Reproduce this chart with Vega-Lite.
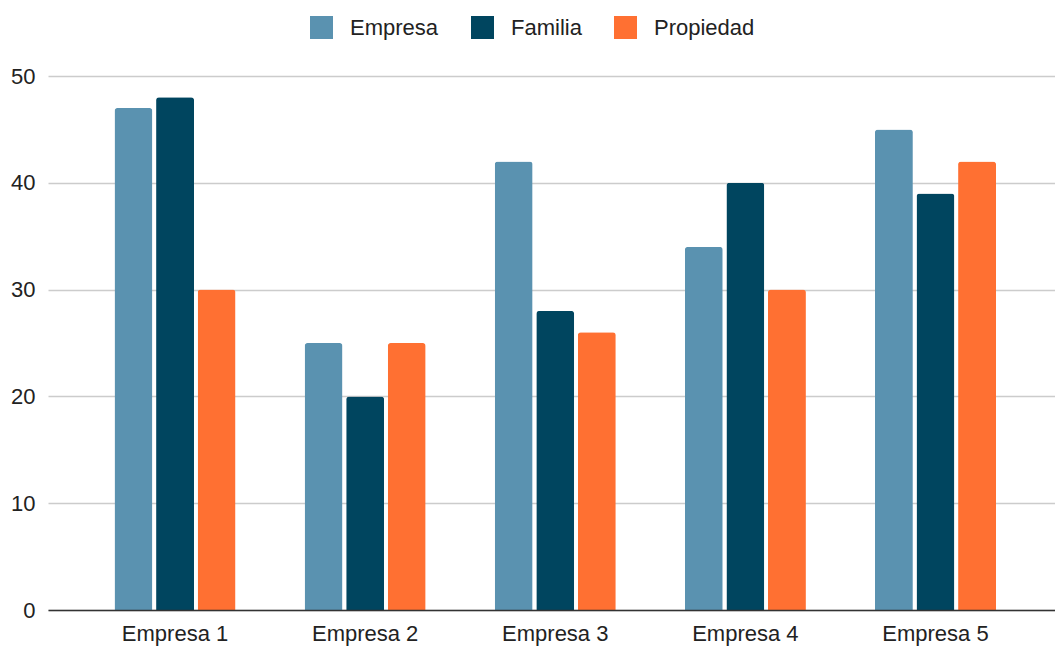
{
  "$schema": "https://vega.github.io/schema/vega-lite/v6.json",
  "width": 1007,
  "height": 534,
  "autosize": {"type": "none"},
  "padding": {"left": 48, "top": 76, "right": 0, "bottom": 37},
  "config": {"view": {"stroke": null}, "font": "Liberation Sans"},
  "data": {
    "values": [
      {"empresa": "Empresa 1", "serie": "Empresa", "valor": 47},
      {"empresa": "Empresa 1", "serie": "Familia", "valor": 48},
      {"empresa": "Empresa 1", "serie": "Propiedad", "valor": 30},
      {"empresa": "Empresa 2", "serie": "Empresa", "valor": 25},
      {"empresa": "Empresa 2", "serie": "Familia", "valor": 20},
      {"empresa": "Empresa 2", "serie": "Propiedad", "valor": 25},
      {"empresa": "Empresa 3", "serie": "Empresa", "valor": 42},
      {"empresa": "Empresa 3", "serie": "Familia", "valor": 28},
      {"empresa": "Empresa 3", "serie": "Propiedad", "valor": 26},
      {"empresa": "Empresa 4", "serie": "Empresa", "valor": 34},
      {"empresa": "Empresa 4", "serie": "Familia", "valor": 40},
      {"empresa": "Empresa 4", "serie": "Propiedad", "valor": 30},
      {"empresa": "Empresa 5", "serie": "Empresa", "valor": 45},
      {"empresa": "Empresa 5", "serie": "Familia", "valor": 39},
      {"empresa": "Empresa 5", "serie": "Propiedad", "valor": 42}
    ]
  },
  "mark": {"type": "bar", "cornerRadiusTopLeft": 3, "cornerRadiusTopRight": 3},
  "encoding": {
    "x": {
      "field": "empresa",
      "type": "nominal",
      "sort": null,
      "scale": {"paddingInner": 0.363, "paddingOuter": 0.33, "align": 0.53},
      "axis": {
        "title": null,
        "labelAngle": 0,
        "labelFontSize": 22,
        "labelColor": "#222222",
        "domainColor": "#333333",
        "domainWidth": 1.5,
        "ticks": false,
        "labelPadding": 13,
        "zindex": 1
      }
    },
    "xOffset": {
      "field": "serie",
      "type": "nominal",
      "sort": ["Empresa", "Familia", "Propiedad"],
      "scale": {"paddingInner": 0.087, "paddingOuter": 0}
    },
    "y": {
      "field": "valor",
      "type": "quantitative",
      "scale": {"domain": [0, 50], "nice": false},
      "axis": {
        "title": null,
        "values": [0, 10, 20, 30, 40, 50],
        "domain": false,
        "ticks": false,
        "labelFontSize": 22,
        "labelPadding": 13,
        "labelColor": "#222222",
        "gridColor": "#cccccc",
        "gridWidth": 1.5
      }
    },
    "color": {
      "field": "serie",
      "type": "nominal",
      "scale": {
        "domain": ["Empresa", "Familia", "Propiedad"],
        "range": ["#5a92b0", "#00455f", "#ff7032"]
      },
      "legend": {
        "orient": "none",
        "legendX": 262,
        "legendY": -60,
        "direction": "horizontal",
        "title": null,
        "symbolType": "square",
        "symbolSize": 529,
        "symbolStrokeWidth": 0,
        "labelFontSize": 22,
        "labelColor": "#222222",
        "labelOffset": 17,
        "columnPadding": 32
      }
    }
  }
}
